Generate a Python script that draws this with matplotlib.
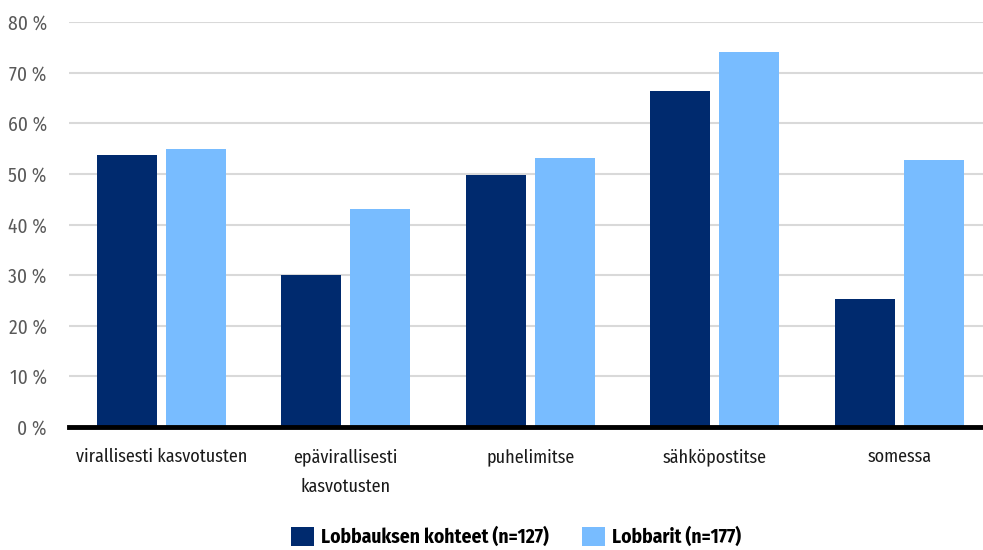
import matplotlib
matplotlib.use("Agg")
import matplotlib.pyplot as plt
from matplotlib import font_manager
from matplotlib.patches import Patch
import numpy as np

categories = ["virallisesti kasvotusten", "epävirallisesti\nkasvotusten", "puhelimitse", "sähköpostitse", "somessa"]
series_names = ["Lobbauksen kohteet (n=127)", "Lobbarit (n=177)"]
kohteet = [53.7, 30.0, 49.7, 66.3, 25.2]
lobbarit = [54.9, 43.0, 53.1, 74.0, 52.7]
yticks = [0, 10, 20, 30, 40, 50, 60, 70, 80]
ytick_labels = [f"{v} %" for v in yticks]

names = {f.name for f in font_manager.fontManager.ttflist}
fam = "DejaVu Sans"
for cand in ["Fira Sans Condensed", "Encode Sans Condensed", "Roboto Condensed", "Asap Condensed", "Barlow Condensed"]:
    if cand in names:
        fam = cand
        break
plt.rcParams['font.family'] = [fam, 'DejaVu Sans']

fig = plt.figure(figsize=(9.83, 5.5), dpi=100)
W, H = 983, 550
left, right, top, bottom = 69, 983, 22, 427
ax = fig.add_axes([left / W, 1 - bottom / H, (right - left) / W, (bottom - top) / H])

x = np.arange(len(categories))
bw = 0.325
off = 0.187
c1, c2 = "#002a6e", "#78bcff"
ax.bar(x - off, kohteet, bw, color=c1, zorder=3)
ax.bar(x + off, lobbarit, bw, color=c2, zorder=3)

ax.set_xlim(-0.5, 4.5 - 8.5 / 184.5)
ax.set_ylim(0, 80)
ax.set_yticks(yticks)
ax.set_yticklabels(ytick_labels, fontsize=14, color="#595959")
ax.yaxis.grid(True, color="#d9d9d9", linewidth=1.5, zorder=0)
ax.set_axisbelow(True)
for s in ["top", "right", "left"]:
    ax.spines[s].set_visible(False)
ax.spines["bottom"].set_color("black")
ax.spines["bottom"].set_linewidth(3.5)
ax.spines["bottom"].set_zorder(4)
ax.tick_params(axis="y", length=0, pad=16)
ax.tick_params(axis="x", length=0, pad=15)
ax.set_xticks(x)
ax.set_xticklabels(categories, fontsize=13, color="#1a1a1a", linespacing=1.85, va="top")

handles = [Patch(facecolor=c1), Patch(facecolor=c2)]
fig.legend(handles, series_names, loc="center", bbox_to_anchor=(516 / W, 1 - 537 / H),
           ncol=2, frameon=False, prop={"family": [fam, "DejaVu Sans"], "weight": "bold", "size": 14},
           handlelength=1.15, handleheight=1.15, handletextpad=0.35, columnspacing=1.75)

fig.savefig("out.png", dpi=100)
